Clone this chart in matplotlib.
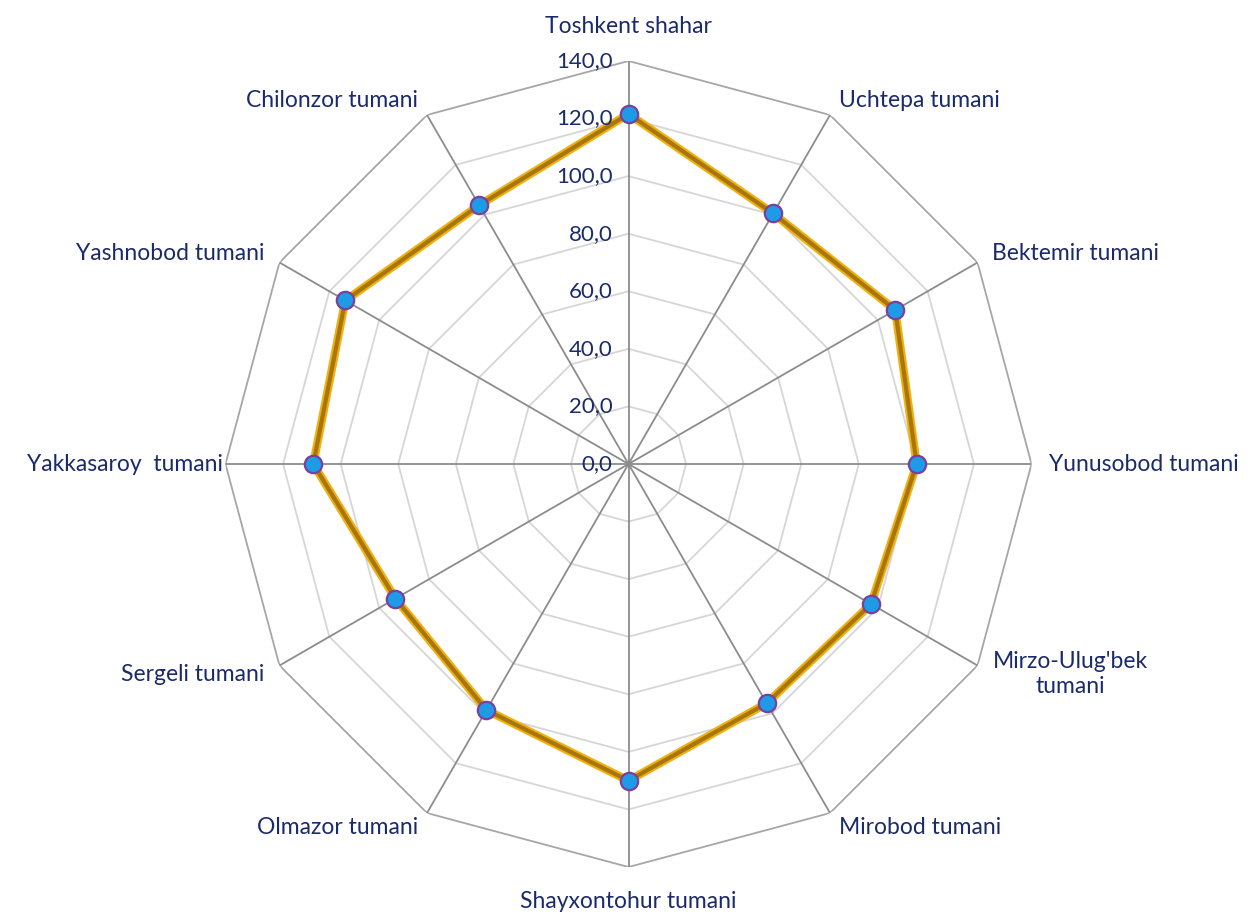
import numpy as np
import matplotlib
matplotlib.use("Agg")
import matplotlib.pyplot as plt
from matplotlib.transforms import offset_copy

categories = ["Toshkent shahar", "Uchtepa tumani", "Bektemir tumani", "Yunusobod tumani",
              "Mirzo-Ulug'bek\ntumani", "Mirobod tumani", "Shayxontohur tumani",
              "Olmazor tumani", "Sergeli tumani", "Yakkasaroy  tumani",
              "Yashnobod tumani", "Chilonzor tumani"]
values = [121.6, 100.5, 107.0, 100.1, 97.3, 96.0, 110.0, 98.7, 93.5, 109.5, 113.6, 103.8]
ticks = [0, 20, 40, 60, 80, 100, 120, 140]
tick_labels = ["0,0", "20,0", "40,0", "60,0", "80,0", "100,0", "120,0", "140,0"]

navy = "#1b2a6b"
plt.rcParams['font.family'] = ['Lato', 'DejaVu Sans']

fig = plt.figure(figsize=(12.52, 9.17), dpi=100)
ax = fig.add_axes([0.180, 0.0545, 0.644, 0.879], projection='polar')
ax.set_theta_zero_location('N')
ax.set_theta_direction(-1)
ax.set_ylim(0, 140)
ax.grid(False)
ax.spines['polar'].set_visible(False)
ax.set_xticks([])
ax.set_yticks([])

n = len(categories)
angles = np.arange(n) * 2 * np.pi / n
closed = np.append(angles, angles[0])

# polygon rings
for t in ticks[1:]:
    col = '#a6a6a6' if t == ticks[-1] else '#d6d6d6'
    ax.plot(closed, [t] * (n + 1), color=col, lw=1.3, zorder=1)
# spokes
for a in angles:
    ax.plot([a, a], [0, ticks[-1]], color='#8c8c8c', lw=1.3, zorder=2)

# radial tick labels
trans = offset_copy(ax.transData, fig=fig, x=-16, y=0, units='dots')
for t, lab in zip(ticks, tick_labels):
    ax.text(0, t, lab, transform=trans, ha='right', va='center',
            fontsize=16, color=navy, zorder=5)

# category labels
for i, (a, lab) in enumerate(zip(angles, categories)):
    deg = np.degrees(a) % 360
    if np.isclose(deg, 0) or np.isclose(deg, 180):
        r, ha = 152, 'center'
    elif deg < 180:
        r, ha = 146, 'left'
    else:
        r, ha = (141 if np.isclose(deg, 270) else 146), 'right'
    ax.text(a, r, lab, ha=ha, va='center', multialignment='center',
            fontsize=16.5, color=navy, zorder=5, linespacing=1.25)

vals = np.append(values, values[0])
ax.plot(closed, vals, color='#f0b010', lw=6, zorder=3, solid_joinstyle='miter')
ax.plot(closed, vals, color='#a8760e', lw=3, zorder=4, solid_joinstyle='miter')
ax.plot(angles, values, linestyle='none', marker='o', markersize=12.5,
        markerfacecolor='#1e9be6', markeredgecolor='#7b3f9c', markeredgewidth=1.6, zorder=6)

fig.savefig('out.png', dpi=100, facecolor='white')
